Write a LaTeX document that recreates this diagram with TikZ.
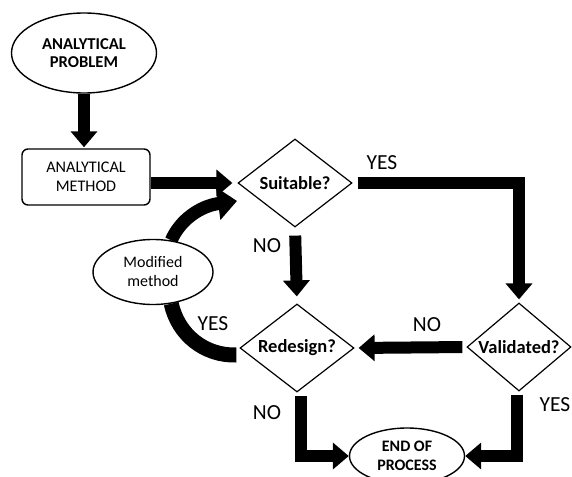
\documentclass[tikz,border=0pt]{standalone}
\usepackage{fontspec}
\setmainfont{Carlito}
\usetikzlibrary{shapes.geometric,arrows.meta}
\pgfdeclarelayer{bg}
\pgfsetlayers{bg,main}
\begin{document}
\begin{tikzpicture}[x=1pt,y=-1pt,
  oval/.style={draw,ellipse,line width=1.4pt,fill=white,inner sep=0pt,align=center},
  dia/.style={draw,diamond,shape aspect=1.3,line width=1.2pt,fill=white,minimum width=114pt,minimum height=88pt,inner sep=0pt,font=\bfseries\fontsize{18.5}{20}\selectfont},
  conn/.style={line width=12pt,-{Triangle[width=26pt,length=16pt]},line join=miter},
  lbl/.style={font=\fontsize{21.5}{24}\selectfont}]
\useasboundingbox (0,0) rectangle (572,476);
\node[oval,minimum width=145pt,minimum height=80pt,font=\bfseries\fontsize{16.6}{18.5}\selectfont] (prob) at (84,53) {ANALYTICAL\\PROBLEM};
\node[draw,rounded corners=6pt,line width=1.4pt,minimum width=128pt,minimum height=56pt,align=center,font=\fontsize{16.2}{19}\selectfont] (meth) at (86,177) {ANALYTICAL\\METHOD};
\node[dia] (suit) at (295,183) {Suitable?};
\node[dia] (redes) at (297,348) {Redesign?};
\node[dia,minimum width=104pt] (valid) at (519,347) {Validated?};
\node[oval,minimum width=120pt,minimum height=65pt,font=\fontsize{16}{19}\selectfont] (mod) at (153,272) {Modified\\method};
\node[oval,minimum width=115pt,minimum height=56pt,font=\bfseries\fontsize{16}{19.5}\selectfont] (end) at (407,456) {END OF\\PROCESS};
\node[lbl] (yes1) at (382,163) {YES};
\node[lbl] (no1) at (267,246) {NO};
\node[lbl] (yes2) at (213,324) {YES};
\node[lbl] (no2) at (427,325) {NO};
\node[lbl] (no3) at (267,413) {NO};
\node[lbl] (yes3) at (555,405) {YES};
\coordinate (ut) at (237,201);
\begin{pgfonlayer}{bg}
\draw[line width=13pt,-{Triangle[width=32pt,length=19pt]}] (mod.60) .. controls (180,220) and (200,206) .. (ut);
\draw[line width=15pt] (mod.-60) .. controls (178,335) and (205,356) .. ([xshift=-3pt,yshift=-7pt]redes.west);
\end{pgfonlayer}
\draw[conn,shorten >=1pt] (prob.south) -- (prob.south |- meth.north);
\draw[conn,shorten >=5pt] (meth.east |- suit.west) -- (suit.west);
\draw[conn,shorten <=5pt,shorten >=3pt] (suit.east) -| (valid.north);
\draw[conn,shorten <=8pt,shorten >=7pt] (suit.south) -- (redes.north);
\draw[conn,shorten <=4pt,shorten >=4pt] (valid.west) -- (redes.east);
\draw[conn,shorten <=3pt] ([xshift=4pt]redes.south) |- (end.west);
\draw[conn,shorten <=3pt] ([xshift=-2pt]valid.south) |- (end.east);
\end{tikzpicture}
\end{document}
